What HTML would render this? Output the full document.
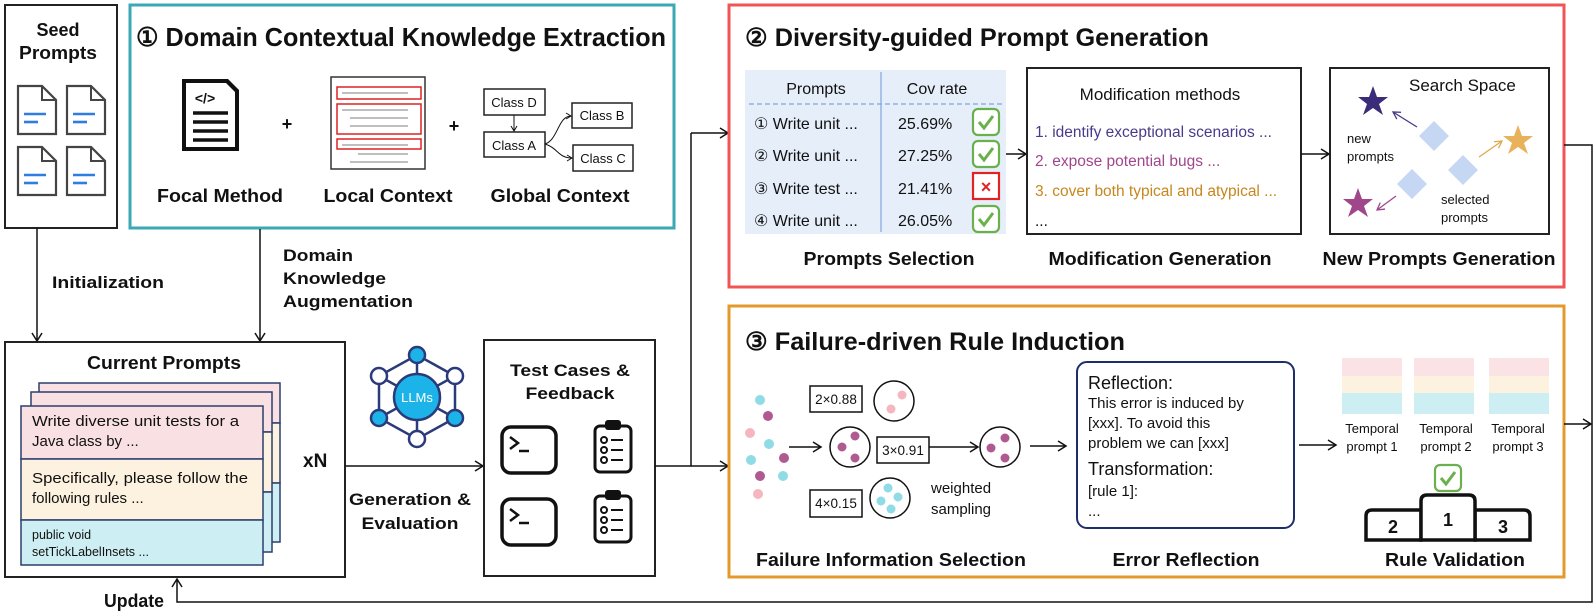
<!DOCTYPE html>
<html><head><meta charset="utf-8"><style>
html,body{margin:0;padding:0;background:#fff}
svg{display:block}
text{font-family:"Liberation Sans",Arial,sans-serif;fill:#111}
.b{font-weight:bold}
.m{font-family:"Liberation Mono",monospace}
</style></head><body>
<svg width="1596" height="616" viewBox="0 0 1596 616" xmlns="http://www.w3.org/2000/svg">
<defs>
<marker id="ar" markerWidth="12" markerHeight="12" refX="10" refY="6" orient="auto" markerUnits="userSpaceOnUse">
<path d="M2,1 L10,6 L2,11" fill="none" stroke="#111" stroke-width="1.5"/></marker>
<marker id="arp" markerWidth="10" markerHeight="10" refX="8" refY="5" orient="auto" markerUnits="userSpaceOnUse">
<path d="M1,1 L8,5 L1,9" fill="none" stroke="#4a3a8a" stroke-width="1.3"/></marker>
<marker id="arm" markerWidth="10" markerHeight="10" refX="8" refY="5" orient="auto" markerUnits="userSpaceOnUse">
<path d="M1,1 L8,5 L1,9" fill="none" stroke="#a0468a" stroke-width="1.3"/></marker>
<marker id="aro" markerWidth="10" markerHeight="10" refX="8" refY="5" orient="auto" markerUnits="userSpaceOnUse">
<path d="M1,1 L8,5 L1,9" fill="none" stroke="#e0a84a" stroke-width="1.3"/></marker>
<marker id="ars" markerWidth="8" markerHeight="8" refX="6" refY="4" orient="auto" markerUnits="userSpaceOnUse">
<path d="M1,1 L6,4 L1,7" fill="none" stroke="#111" stroke-width="1"/></marker>
<g id="doc"><path d="M0,0 H24 L38,14 V48 H0 Z" fill="#fff" stroke="#444" stroke-width="2.2"/><path d="M24,0 V14 H38" fill="none" stroke="#444" stroke-width="2"/><line x1="6" y1="28" x2="28" y2="28" stroke="#2f7de1" stroke-width="2.6"/><line x1="6" y1="36" x2="20" y2="36" stroke="#2f7de1" stroke-width="2.6"/></g>
<g id="chk"><rect x="0" y="0" width="26" height="26" rx="5" fill="#fff" stroke="#6ab04c" stroke-width="2.2"/><path d="M6,13 L11,19 L20,7" fill="none" stroke="#6ab04c" stroke-width="3"/></g>
<g id="term"><rect x="0" y="0" width="54" height="46" rx="9" fill="#fff" stroke="#111" stroke-width="3.5"/><path d="M8,10 L16,16 L8,22" fill="none" stroke="#111" stroke-width="2.5"/><line x1="17" y1="24" x2="27" y2="24" stroke="#111" stroke-width="2.5"/></g>
<g id="clip"><rect x="0" y="6" width="36" height="46" rx="5" fill="#fff" stroke="#111" stroke-width="3"/><rect x="10" y="0" width="16" height="10" rx="3" fill="#111"/><g fill="none" stroke="#111" stroke-width="2"><circle cx="9" cy="20" r="3"/><circle cx="9" cy="30" r="3"/><circle cx="9" cy="40" r="3"/></g><g stroke="#111" stroke-width="2"><line x1="16" y1="20" x2="28" y2="20"/><line x1="16" y1="30" x2="28" y2="30"/><line x1="16" y1="40" x2="28" y2="40"/></g></g>
</defs>

<!-- Seed prompts -->
<rect x="5" y="5" width="112" height="223" fill="#fff" stroke="#222" stroke-width="2"/>
<text class="b" x="58" y="36" font-size="18" text-anchor="middle">Seed</text>
<text class="b" x="58" y="59" font-size="18" text-anchor="middle" textLength="78" lengthAdjust="spacingAndGlyphs">Prompts</text>
<use href="#doc" x="18" y="86"/><use href="#doc" x="67" y="86"/>
<use href="#doc" x="18" y="147"/><use href="#doc" x="67" y="147"/>

<!-- Domain box -->
<rect x="130" y="5" width="544" height="223" fill="#fff" stroke="#3aa9b5" stroke-width="3"/>
<text class="b" x="136" y="46" font-size="26" textLength="530" lengthAdjust="spacingAndGlyphs">① Domain Contextual Knowledge Extraction</text>
<!-- focal icon -->
<path d="M182,79 H228 L239,90 V151 H182 Z" fill="#111"/>
<path d="M186,83 H226 L235,92 V147 H186 Z" fill="#fff"/>
<text class="b" x="205" y="103" font-size="14" text-anchor="middle">&lt;/&gt;</text>
<g stroke="#111" stroke-width="3.5"><line x1="193" y1="113" x2="228" y2="113"/><line x1="193" y1="122" x2="228" y2="122"/><line x1="193" y1="131" x2="228" y2="131"/><line x1="193" y1="140" x2="228" y2="140"/></g>
<text class="b" x="287" y="130" font-size="18" text-anchor="middle">+</text>
<!-- local doc -->
<rect x="331" y="77" width="94" height="92" fill="#fff" stroke="#333" stroke-width="1.5"/>
<g fill="none" stroke="#d22" stroke-width="1.5"><rect x="337" y="87" width="84" height="12"/><rect x="337" y="104" width="84" height="30"/><rect x="337" y="139" width="84" height="10"/></g>
<g stroke="#aaa" stroke-width="1.4"><line x1="342" y1="93" x2="408" y2="93"/><line x1="342" y1="110" x2="408" y2="110"/><line x1="350" y1="118" x2="408" y2="118"/><line x1="350" y1="126" x2="408" y2="126"/><line x1="342" y1="145" x2="408" y2="145"/><line x1="358" y1="154" x2="408" y2="154"/><line x1="350" y1="162" x2="408" y2="162"/></g>
<text class="b" x="454" y="132" font-size="18" text-anchor="middle">+</text>
<!-- classes -->
<g fill="#fff" stroke="#222" stroke-width="1.5"><rect x="484" y="89" width="61" height="26"/><rect x="484" y="132" width="61" height="25"/><rect x="572" y="103" width="60" height="25"/><rect x="573" y="145" width="60" height="26"/></g>
<g font-size="13"><text x="514" y="107" text-anchor="middle">Class D</text><text x="514" y="150" text-anchor="middle">Class A</text><text x="602" y="120" text-anchor="middle">Class B</text><text x="603" y="163" text-anchor="middle">Class C</text></g>
<line x1="514" y1="115" x2="514" y2="131" stroke="#111" stroke-width="1" marker-end="url(#ars)"/>
<path d="M545,144 C558,140 558,116 571,116" fill="none" stroke="#111" stroke-width="1" marker-end="url(#ars)"/>
<path d="M545,144 C558,148 558,158 572,158" fill="none" stroke="#111" stroke-width="1" marker-end="url(#ars)"/>
<g class="b" font-size="18" text-anchor="middle">
<text x="220" y="202" textLength="126" lengthAdjust="spacingAndGlyphs">Focal Method</text>
<text x="388" y="202" textLength="129" lengthAdjust="spacingAndGlyphs">Local Context</text>
<text x="560" y="202" textLength="139" lengthAdjust="spacingAndGlyphs">Global Context</text></g>

<!-- connectors left -->
<line x1="37" y1="228" x2="37" y2="341" stroke="#111" stroke-width="1.5" marker-end="url(#ar)"/>
<line x1="260" y1="229" x2="260" y2="341" stroke="#111" stroke-width="1.5" marker-end="url(#ar)"/>
<text class="b" x="52" y="288" font-size="17" textLength="112" lengthAdjust="spacingAndGlyphs">Initialization</text>
<g class="b" font-size="17"><text x="283" y="261" textLength="70" lengthAdjust="spacingAndGlyphs">Domain</text><text x="283" y="284" textLength="103" lengthAdjust="spacingAndGlyphs">Knowledge</text><text x="283" y="307" textLength="130" lengthAdjust="spacingAndGlyphs">Augmentation</text></g>

<!-- current prompts -->
<rect x="5" y="342" width="340" height="235" fill="#fff" stroke="#222" stroke-width="2"/>
<text class="b" x="164" y="369" font-size="18" text-anchor="middle" textLength="154" lengthAdjust="spacingAndGlyphs">Current Prompts</text>
<g stroke="#2d3e6e" stroke-width="1.5">
<rect x="39" y="383" width="241" height="40" fill="#f9e0e3"/><rect x="39" y="423" width="241" height="60" fill="#fdf2df"/><rect x="39" y="483" width="241" height="59" fill="#cdeef2"/>
<rect x="31" y="392" width="241" height="40" fill="#f9e0e3"/><rect x="31" y="432" width="241" height="60" fill="#fdf2df"/><rect x="31" y="492" width="241" height="60" fill="#cdeef2"/>
<rect x="21" y="406" width="242" height="53" fill="#f9e0e3"/><rect x="21" y="459" width="242" height="61" fill="#fdf2df"/><rect x="21" y="520" width="242" height="45" fill="#cdeef2"/></g>
<g font-size="15"><text x="32" y="426" textLength="207" lengthAdjust="spacingAndGlyphs">Write diverse unit tests for a</text><text x="32" y="446">Java class by  ...</text>
<text x="32" y="483" textLength="216" lengthAdjust="spacingAndGlyphs">Specifically, please follow the</text><text x="32" y="503">following rules   ...</text></g>
<g class="m" font-size="12.5"><text x="32" y="539">public void</text><text x="32" y="556">setTickLabelInsets ...</text></g>
<text class="b" x="303" y="467" font-size="19">xN</text>

<!-- LLM -->
<g stroke="#2b3a7a" stroke-width="2.5" fill="none">
<polygon points="417,355 455,376 455,418 417,439 379,418 379,376"/>
<line x1="417" y1="355" x2="417" y2="439"/><line x1="379" y1="376" x2="455" y2="418"/><line x1="455" y1="376" x2="379" y2="418"/></g>
<circle cx="417" cy="397" r="23" fill="#1cb4e8" stroke="#2b3a7a" stroke-width="2.5"/>
<text x="417" y="402" font-size="13" text-anchor="middle" style="fill:#fff">LLMs</text>
<g stroke="#2b3a7a" stroke-width="2.5"><circle cx="417" cy="355" r="8" fill="#1cb4e8"/><circle cx="379" cy="418" r="8" fill="#1cb4e8"/><circle cx="455" cy="418" r="8" fill="#1cb4e8"/>
<circle cx="379" cy="376" r="8" fill="#fff"/><circle cx="455" cy="376" r="8" fill="#fff"/><circle cx="417" cy="439" r="8" fill="#fff"/></g>
<line x1="345" y1="466" x2="483" y2="466" stroke="#111" stroke-width="1.5" marker-end="url(#ar)"/>
<g class="b" font-size="17" text-anchor="middle"><text x="410" y="505" textLength="122" lengthAdjust="spacingAndGlyphs">Generation &amp;</text><text x="410" y="529" textLength="97" lengthAdjust="spacingAndGlyphs">Evaluation</text></g>

<!-- test cases -->
<rect x="484" y="340" width="171" height="236" fill="#fff" stroke="#222" stroke-width="2"/>
<g class="b" font-size="17" text-anchor="middle"><text x="570" y="376" textLength="120" lengthAdjust="spacingAndGlyphs">Test Cases &amp;</text><text x="570" y="399" textLength="89" lengthAdjust="spacingAndGlyphs">Feedback</text></g>
<use href="#term" x="502" y="427"/><use href="#term" x="502" y="499"/>
<use href="#clip" x="595" y="420"/><use href="#clip" x="595" y="490"/>

<!-- mid connectors -->
<polyline points="655,466 691,466 691,133" fill="none" stroke="#111" stroke-width="1.5"/>
<line x1="691" y1="133" x2="728" y2="133" stroke="#111" stroke-width="1.5" marker-end="url(#ar)"/>
<line x1="691" y1="466" x2="728" y2="466" stroke="#111" stroke-width="1.5" marker-end="url(#ar)"/>

<!-- red box -->
<rect x="729" y="5" width="835" height="282" fill="#fff" stroke="#f05454" stroke-width="3"/>
<text class="b" x="745" y="46" font-size="25" textLength="464" lengthAdjust="spacingAndGlyphs">② Diversity-guided Prompt Generation</text>
<rect x="745" y="70" width="261" height="164" fill="#e6eef9"/>
<line x1="749" y1="104" x2="1004" y2="104" stroke="#7fa6e0" stroke-width="1.2" stroke-dasharray="5,3"/>
<line x1="881" y1="72" x2="881" y2="232" stroke="#7fa6e0" stroke-width="1.2"/>
<g font-size="16"><text x="816" y="94" text-anchor="middle">Prompts</text><text x="937" y="94" text-anchor="middle">Cov rate</text>
<text x="754" y="129">① Write unit ...</text><text x="754" y="161">② Write unit ...</text><text x="754" y="194">③ Write test ...</text><text x="754" y="226">④ Write unit ...</text>
<text x="898" y="129">25.69%</text><text x="898" y="161">27.25%</text><text x="898" y="194">21.41%</text><text x="898" y="226">26.05%</text></g>
<use href="#chk" x="973" y="109"/><use href="#chk" x="973" y="141"/><use href="#chk" x="973" y="206"/>
<rect x="973" y="173" width="26" height="26" fill="#fff" stroke="#e02424" stroke-width="2.2"/>
<text x="986" y="193" font-size="18" text-anchor="middle" style="fill:#e02424" class="b">×</text>
<line x1="1006" y1="154" x2="1026" y2="154" stroke="#111" stroke-width="1.5" marker-end="url(#ar)"/>
<rect x="1027" y="68" width="274" height="166" fill="#fff" stroke="#222" stroke-width="2"/>
<text x="1160" y="100" font-size="17" text-anchor="middle">Modification methods</text>
<g font-size="15.5"><text x="1035" y="137" style="fill:#4a3a8a">1. identify exceptional scenarios ...</text>
<text x="1035" y="166" style="fill:#a0468a">2. expose potential bugs ...</text>
<text x="1035" y="196" style="fill:#c8861e">3. cover both typical and atypical ...</text>
<text x="1035" y="226">...</text></g>
<line x1="1301" y1="154" x2="1329" y2="154" stroke="#111" stroke-width="1.5" marker-end="url(#ar)"/>
<rect x="1330" y="68" width="219" height="166" fill="#fff" stroke="#222" stroke-width="2"/>
<text x="1409" y="91" font-size="17">Search Space</text>
<g fill="#c5d7f2"><polygon points="1434,121 1449,136 1434,151 1419,136"/><polygon points="1463,155 1478,170 1463,185 1448,170"/><polygon points="1412,169 1427,184 1412,199 1397,184"/></g>
<polygon points="1373,86 1377,97 1388,97 1379,104 1383,115 1373,108 1363,115 1367,104 1358,97 1369,97" fill="#3a2c78"/>
<polygon points="1518,125 1522,136 1533,136 1524,143 1528,154 1518,147 1508,154 1512,143 1503,136 1514,136" fill="#e8b25a"/>
<polygon points="1358,188 1362,199 1373,199 1364,206 1368,217 1358,210 1348,217 1352,206 1343,199 1354,199" fill="#a0468a"/>
<line x1="1417" y1="127" x2="1393" y2="112" stroke="#4a3a8a" stroke-width="1.3" marker-end="url(#arp)"/>
<line x1="1396" y1="196" x2="1377" y2="210" stroke="#a0468a" stroke-width="1.3" marker-end="url(#arm)"/>
<line x1="1479" y1="157" x2="1502" y2="141" stroke="#e0a84a" stroke-width="1.3" marker-end="url(#aro)"/>
<g font-size="13"><text x="1347" y="143">new</text><text x="1347" y="161">prompts</text><text x="1441" y="204">selected</text><text x="1441" y="222">prompts</text></g>
<g class="b" font-size="18" text-anchor="middle"><text x="889" y="265" textLength="171" lengthAdjust="spacingAndGlyphs">Prompts Selection</text>
<text x="1160" y="265" textLength="223" lengthAdjust="spacingAndGlyphs">Modification Generation</text>
<text x="1439" y="265" textLength="233" lengthAdjust="spacingAndGlyphs">New Prompts Generation</text></g>

<!-- orange box -->
<rect x="729" y="306" width="835" height="271" fill="#fff" stroke="#e39a2a" stroke-width="3"/>
<text class="b" x="745" y="350" font-size="25" textLength="380" lengthAdjust="spacingAndGlyphs">③ Failure-driven Rule Induction</text>
<g><circle cx="760" cy="400" r="5" fill="#8fdbe6"/><circle cx="768" cy="416" r="5" fill="#b05a92"/><circle cx="750" cy="433" r="5" fill="#f6b6c0"/><circle cx="769" cy="444" r="5" fill="#8fdbe6"/><circle cx="751" cy="460" r="5" fill="#8fdbe6"/><circle cx="784" cy="458" r="5" fill="#b05a92"/><circle cx="760" cy="476" r="5" fill="#b05a92"/><circle cx="783" cy="476" r="5" fill="#8fdbe6"/><circle cx="758" cy="494" r="5" fill="#f6b6c0"/></g>
<line x1="789" y1="447" x2="821" y2="447" stroke="#111" stroke-width="1.5" marker-end="url(#ar)"/>
<g fill="#fff" stroke="#111" stroke-width="1.5"><rect x="810" y="386" width="52" height="26"/><rect x="877" y="437" width="52" height="26"/><rect x="810" y="490" width="52" height="27"/>
<circle cx="894" cy="401" r="20"/><circle cx="850" cy="447" r="20"/><circle cx="1000" cy="447" r="20"/><circle cx="890" cy="498" r="20"/></g>
<g font-size="13.5" text-anchor="middle"><text x="836" y="404">2×0.88</text><text x="903" y="455">3×0.91</text><text x="836" y="508">4×0.15</text></g>
<circle cx="902" cy="395" r="4.5" fill="#f6b6c0"/><circle cx="891" cy="409" r="4.5" fill="#f6b6c0"/>
<circle cx="855" cy="436" r="4.5" fill="#b05a92"/><circle cx="842" cy="447" r="4.5" fill="#b05a92"/><circle cx="855" cy="458" r="4.5" fill="#b05a92"/>
<circle cx="1005" cy="438" r="4.5" fill="#b05a92"/><circle cx="991" cy="448" r="4.5" fill="#b05a92"/><circle cx="1005" cy="458" r="4.5" fill="#b05a92"/>
<circle cx="888" cy="488" r="4.5" fill="#8fdbe6"/><circle cx="898" cy="497" r="4.5" fill="#8fdbe6"/><circle cx="881" cy="501" r="4.5" fill="#8fdbe6"/><circle cx="891" cy="509" r="4.5" fill="#8fdbe6"/>
<line x1="929" y1="447" x2="978" y2="447" stroke="#111" stroke-width="1.5" marker-end="url(#ar)"/>
<g font-size="15"><text x="931" y="493">weighted</text><text x="931" y="514">sampling</text></g>
<line x1="1030" y1="446" x2="1066" y2="446" stroke="#111" stroke-width="1.5" marker-end="url(#ar)"/>
<rect x="1077" y="362" width="217" height="166" rx="10" fill="#fff" stroke="#1e2e6a" stroke-width="2"/>
<g font-size="15"><text x="1088" y="389" font-size="18">Reflection:</text><text x="1088" y="408">This error is induced by</text><text x="1088" y="428">[xxx]. To avoid this</text><text x="1088" y="448">problem we can [xxx]</text>
<text x="1088" y="475" font-size="18">Transformation:</text><text x="1088" y="496">[rule 1]:</text><text x="1088" y="516">...</text></g>
<line x1="1299" y1="445" x2="1336" y2="445" stroke="#111" stroke-width="1.5" marker-end="url(#ar)"/>
<g><rect x="1342" y="358" width="60" height="18" fill="#fbe2e5"/><rect x="1342" y="376" width="60" height="17" fill="#fdf2df"/><rect x="1342" y="393" width="60" height="21" fill="#cdeef2"/>
<rect x="1414" y="358" width="60" height="18" fill="#fbe2e5"/><rect x="1414" y="376" width="60" height="17" fill="#fdf2df"/><rect x="1414" y="393" width="60" height="21" fill="#cdeef2"/>
<rect x="1489" y="358" width="60" height="18" fill="#fbe2e5"/><rect x="1489" y="376" width="60" height="17" fill="#fdf2df"/><rect x="1489" y="393" width="60" height="21" fill="#cdeef2"/></g>
<g font-size="13" text-anchor="middle"><text x="1372" y="433">Temporal</text><text x="1372" y="451">prompt 1</text><text x="1446" y="433">Temporal</text><text x="1446" y="451">prompt 2</text><text x="1518" y="433">Temporal</text><text x="1518" y="451">prompt 3</text></g>
<use href="#chk" x="1435" y="465"/>
<g fill="#fff" stroke="#111" stroke-width="3.5"><path d="M1366,540 V516 Q1366,510 1372,510 H1421 V540 Z"/><path d="M1475,540 V510 H1524 Q1530,510 1530,516 V540 Z"/><path d="M1421,540 V501 Q1421,495 1427,495 H1469 Q1475,495 1475,501 V540 Z"/></g>
<g class="b" font-size="18" text-anchor="middle"><text x="1393" y="533">2</text><text x="1448" y="526">1</text><text x="1503" y="533">3</text></g>
<g class="b" font-size="18" text-anchor="middle"><text x="891" y="566" textLength="270" lengthAdjust="spacingAndGlyphs">Failure Information Selection</text>
<text x="1186" y="566" textLength="147" lengthAdjust="spacingAndGlyphs">Error Reflection</text>
<text x="1455" y="566" textLength="140" lengthAdjust="spacingAndGlyphs">Rule Validation</text></g>

<!-- right loop -->
<polyline points="1564,145 1592,145 1592,602 177,602 177,579" fill="none" stroke="#111" stroke-width="1.5" marker-end="url(#ar)"/>
<line x1="1564" y1="424" x2="1591" y2="424" stroke="#111" stroke-width="1.5" marker-end="url(#ar)"/>
<text class="b" x="104" y="607" font-size="18" textLength="60" lengthAdjust="spacingAndGlyphs">Update</text>
</svg>
</body></html>
